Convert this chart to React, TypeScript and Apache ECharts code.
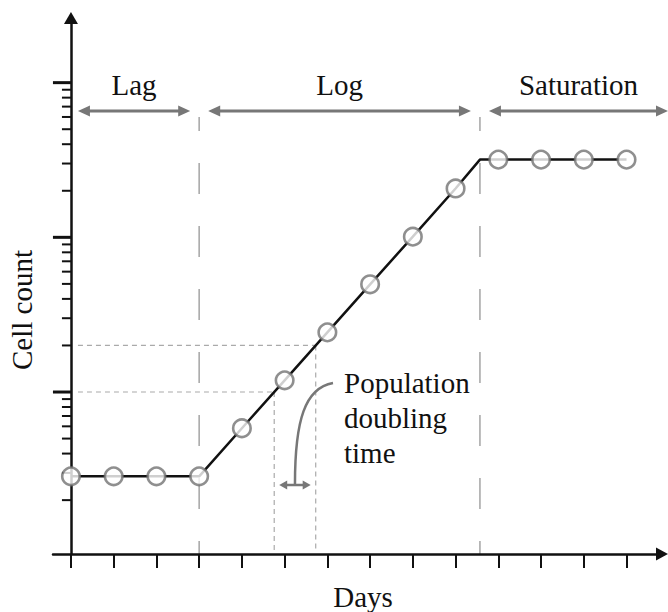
import React, { useEffect, useRef } from "react";
import * as echarts from "echarts";

// Measured cell counts per day (log scale on the y axis)
const DAYS = [0, 1, 2, 3, 4, 5, 6, 7, 8, 9, 10, 11, 12, 13];
const CELL_COUNT = [2.85, 2.85, 2.85, 2.85, 5.83, 11.9, 24.3, 49.7, 101, 207, 318, 318, 318, 318];

// Phase boundaries (days) and the plateau reached at the end of the log phase
const LOG_START_DAY = 3;
const LOG_END_DAY = 9.57;
const PLATEAU_COUNT = 318;
const PHASES = ["Lag", "Log", "Saturation"];

// Tick marks of the log axis
const MAJOR_TICKS = [10, 100, 1000];
const MINOR_TICKS = [2, 3, 4, 5, 6, 7, 8, 9, 20, 30, 40, 50, 60, 70, 80, 90, 200, 300, 400, 500, 600, 700, 800, 900];

// Counts used to show one doubling of the population
const DOUBLING = [10, 20];

const X_RANGE = [-0.42, 13.83];
const Y_RANGE = [0.897, 2618];

const FONT = "'Liberation Serif', 'Times New Roman', serif";
const FONT_SIZE = 29;
const INK = "#111";
const GREY = "#777";

// Day at which the growth curve reaches a given count (log interpolation)
function dayAtCount(path: number[][], count: number): number {
  for (let i = 0; i < path.length - 1; i++) {
    const [d0, c0] = path[i];
    const [d1, c1] = path[i + 1];
    if (c0 < c1 && count >= c0 && count <= c1) {
      const t = Math.log(count / c0) / Math.log(c1 / c0);
      return d0 + t * (d1 - d0);
    }
  }
  return path[0][0];
}

function head(tipX: number, tipY: number, dir: number, len: number, half: number, color: string) {
  return {
    type: "polygon",
    shape: {
      points: [
        [tipX, tipY],
        [tipX - dir * len, tipY - half],
        [tipX - dir * len, tipY + half],
      ],
    },
    style: { fill: color },
    silent: true,
  };
}

function doubleArrow(x1: number, x2: number, y: number, len: number, half: number, width: number) {
  return [
    {
      type: "line",
      shape: { x1: x1 + len * 0.7, y1: y, x2: x2 - len * 0.7, y2: y },
      style: { stroke: GREY, lineWidth: width },
      silent: true,
    },
    head(x1, y, -1, len, half, GREY),
    head(x2, y, 1, len, half, GREY),
  ];
}

export default function App() {
  const ref = useRef<HTMLDivElement>(null);

  useEffect(() => {
    const el = ref.current;
    if (!el) return;
    const chart = echarts.init(el, undefined, { renderer: "svg" });

    const linePath = [...DAYS.map((d, i) => [d, CELL_COUNT[i]]), [LOG_END_DAY, PLATEAU_COUNT]].sort(
      (a, b) => a[0] - b[0]
    );
    const tickData = [
      ...MAJOR_TICKS.map((v) => [0, v, 1]),
      ...MINOR_TICKS.map((v) => [0, v, 0]),
    ];

    chart.setOption({
      animation: false,
      backgroundColor: "#fff",
      grid: { left: 53, right: 6, top: 18, bottom: 58 },
      xAxis: {
        type: "value",
        min: X_RANGE[0],
        max: X_RANGE[1],
        axisLine: {
          onZero: false,
          lineStyle: { color: INK, width: 2.5 },
          symbol: ["none", "triangle"],
          symbolSize: [13, 12],
        },
        axisTick: {
          show: true,
          customValues: DAYS,
          length: 14,
          inside: false,
          lineStyle: { color: INK, width: 2 },
        },
        axisLabel: { show: false },
        splitLine: { show: false },
      },
      yAxis: {
        type: "log",
        logBase: 10,
        min: Y_RANGE[0],
        max: Y_RANGE[1],
        axisLine: {
          show: true,
          onZero: true,
          lineStyle: { color: INK, width: 2.5 },
          symbol: ["none", "triangle"],
          symbolSize: [14, 12],
        },
        axisTick: { show: false },
        axisLabel: { show: false },
        splitLine: { show: false },
        minorTick: { show: false },
      },
      series: [
        {
          type: "custom",
          silent: true,
          clip: false,
          z: 3,
          data: tickData,
          renderItem: (_params: any, api: any) => {
            const p = api.coord([api.value(0), api.value(1)]);
            const major = api.value(2) === 1;
            const len = major ? 18 : 9;
            return {
              type: "line",
              shape: { x1: p[0] - len, y1: p[1], x2: p[0], y2: p[1] },
              style: { stroke: INK, lineWidth: major ? 3 : 2 },
            };
          },
        },
        {
          type: "line",
          data: linePath,
          symbol: "none",
          silent: true,
          z: 4,
          lineStyle: { color: INK, width: 2.5 },
        },
        {
          type: "scatter",
          data: DAYS.map((d, i) => [d, CELL_COUNT[i]]),
          symbol: "circle",
          symbolSize: 17.5,
          silent: true,
          z: 5,
          itemStyle: { color: "#fff", borderColor: "#737373", borderWidth: 2.6 },
        },
      ],
    });

    const px = (d: number, v: number) => chart.convertToPixel({ gridIndex: 0 }, [d, v]) as number[];
    const [axisX, axisY] = px(0, Y_RANGE[0]);
    const bx0 = px(LOG_START_DAY, 10)[0];
    const bx1 = px(LOG_END_DAY, 10)[0];
    const chartW = chart.getWidth();

    const elements: any[] = [];

    // long-dashed phase boundaries
    [bx0, bx1].forEach((x) => {
      elements.push({
        type: "line",
        shape: { x1: x, y1: 117, x2: x, y2: axisY },
        style: { stroke: "#aaa", lineWidth: 1.6, lineDash: [31, 32], lineDashOffset: 17 },
        silent: true,
      });
    });

    // phase arrows and their names
    const arrowY = 111;
    const spans = [
      [axisX + 7, bx0 - 9],
      [bx0 + 9, bx1 - 9],
      [bx1 + 9, chartW],
    ];
    spans.forEach(([a, b], i) => {
      elements.push(...doubleArrow(a, b, arrowY, 12, 5.5, 3));
      elements.push({
        type: "text",
        x: (a + b) / 2,
        y: 85,
        silent: true,
        style: {
          text: PHASES[i],
          fontFamily: FONT,
          fontSize: FONT_SIZE,
          fill: INK,
          align: "center",
          verticalAlign: "middle",
        },
      });
    });

    // doubling-time guides
    const dayA = dayAtCount(linePath, DOUBLING[0]);
    const dayB = dayAtCount(linePath, DOUBLING[1]);
    const pA = px(dayA, DOUBLING[0]);
    const pB = px(dayB, DOUBLING[1]);
    [pA, pB].forEach((p) => {
      const guide = { stroke: "#aaa", lineWidth: 1.2, lineDash: [5, 4] };
      elements.push({
        type: "line",
        shape: { x1: axisX + 7, y1: p[1], x2: p[0], y2: p[1] },
        style: guide,
        silent: true,
      });
      elements.push({
        type: "line",
        shape: { x1: p[0], y1: p[1], x2: p[0], y2: axisY - 4 },
        style: guide,
        silent: true,
      });
    });
    const dblY = 485;
    elements.push(...doubleArrow(pA[0] + 5, pB[0] - 5, dblY, 8, 4.5, 2.5));

    const textX = 344;
    const midX = (pA[0] + pB[0]) / 2;
    elements.push({
      type: "bezierCurve",
      shape: {
        x1: textX - 11,
        y1: 383,
        cpx1: textX - 39,
        cpy1: 388,
        cpx2: midX,
        cpy2: 420,
        x2: midX,
        y2: dblY - 1,
      },
      style: { stroke: GREY, lineWidth: 2.5, fill: "none" },
      silent: true,
    });
    elements.push({
      type: "text",
      x: textX,
      y: 365,
      silent: true,
      style: {
        text: "Population\ndoubling\ntime",
        fontFamily: FONT,
        fontSize: FONT_SIZE,
        lineHeight: 35,
        fill: INK,
        align: "left",
        verticalAlign: "top",
      },
    });

    // axis titles
    elements.push({
      type: "text",
      x: 363,
      y: 597,
      silent: true,
      style: {
        text: "Days",
        fontFamily: FONT,
        fontSize: FONT_SIZE,
        fill: INK,
        align: "center",
        verticalAlign: "middle",
      },
    });
    elements.push({
      type: "text",
      x: 22,
      y: 310,
      rotation: Math.PI / 2,
      silent: true,
      style: {
        text: "Cell count",
        fontFamily: FONT,
        fontSize: FONT_SIZE,
        fill: INK,
        align: "center",
        verticalAlign: "middle",
      },
    });

    chart.setOption({ graphic: { elements } });

    return () => chart.dispose();
  }, []);

  return (
    <div
      ref={ref}
      style={{ position: "fixed", left: 0, top: 0, width: 668, height: 612, background: "#fff" }}
    />
  );
}
